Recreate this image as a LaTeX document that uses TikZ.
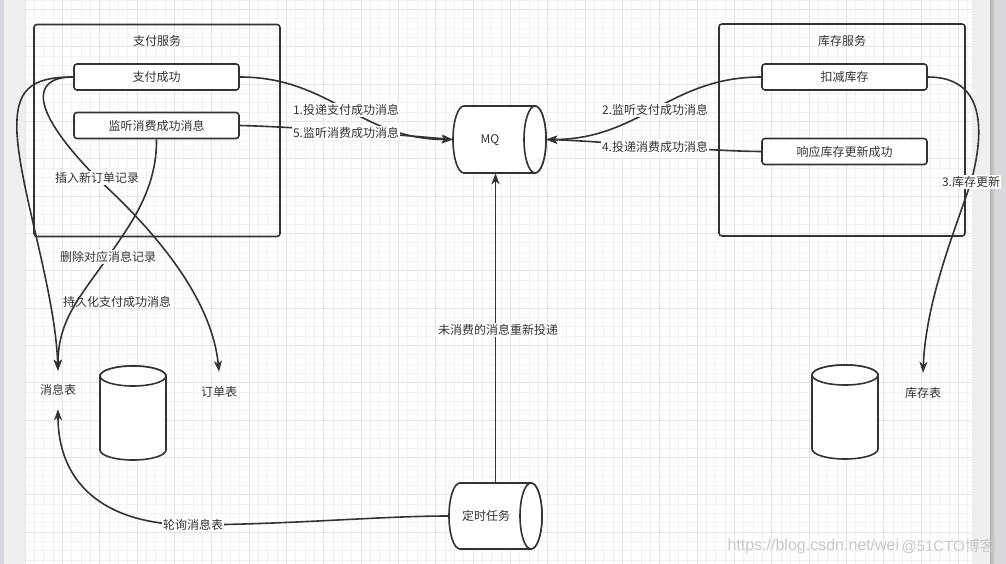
\documentclass[tikz,border=0pt]{standalone}
\usepackage{fontspec}
\setmainfont{Noto Sans CJK SC}
\newfontfamily\wmfont{Liberation Sans}
\usetikzlibrary{arrows.meta,calc}
\definecolor{ink}{HTML}{333333}
\definecolor{gridminor}{HTML}{F2F2F2}
\definecolor{gridmajor}{HTML}{E4E4E4}
\definecolor{sidegray}{HTML}{EFEFEF}
\definecolor{darkside}{HTML}{D8D8DC}
\definecolor{wmgray}{HTML}{C9C9C9}
\pgfdeclarelayer{bg}
\pgfdeclarelayer{edges}
\pgfsetlayers{bg,edges,main}
\tikzset{
  every node/.style={font=\fontsize{12}{14}\selectfont, text=ink},
  container/.style={draw=ink, line width=1.6, rounded corners=3pt, minimum width=246, minimum height=212, inner sep=0},
  box/.style={draw=ink, line width=1.6, rounded corners=3pt, fill=white, minimum width=165, minimum height=26, inner sep=0},
  tbl/.style={minimum width=60, minimum height=38, inner sep=0},
  anchorbox/.style={minimum width=93, minimum height=67, inner sep=0},
  lbl/.style={fill=white, inner sep=1pt},
  plainlbl/.style={inner sep=1pt},
  cylstyle/.style={draw=ink, line width=1.6, fill=white},
  arr/.style={draw=ink, line width=1.6, -{Stealth[length=11pt, width=8pt, inset=3pt]}},
}
\newcommand{\hcylinder}[4]{%
  \begin{scope}[shift={(#1,#2)}]
    \filldraw[cylstyle] (#3-11,-#4) -- (-#3+11,-#4) arc[start angle=270,end angle=90,x radius=11,y radius=#4] -- (#3-11,#4) arc[start angle=90,end angle=-90,x radius=11,y radius=#4] -- cycle;
    \draw[cylstyle] (#3-11,0) ellipse[x radius=11,y radius=#4];
  \end{scope}}
\newcommand{\vcylinder}[4]{%
  \begin{scope}[shift={(#1,#2)}]
    \filldraw[cylstyle] (-#3,-#4+10) -- (-#3,#4-10) arc[start angle=180,end angle=0,x radius=#3,y radius=10] -- (#3,-#4+10) arc[start angle=0,end angle=-180,x radius=#3,y radius=10] -- cycle;
    \draw[cylstyle] (0,-#4+10) ellipse[x radius=#3,y radius=10];
  \end{scope}}
\begin{document}
\begin{tikzpicture}[x=1pt,y=-1pt]
\useasboundingbox (0,0) rectangle (1006,564);
\begin{pgfonlayer}{bg}
  \fill[white] (0,0) rectangle (1006,564);
  \foreach \yy in {0,9.3333,...,564} {\draw[gridminor, line width=0.8] (25,\yy) -- (972,\yy);}
  \foreach \xx in {25,34.3333,...,972} {\draw[gridminor, line width=0.8] (\xx,0) -- (\xx,564);}
  \foreach \yy in {9.3333,46.6667,...,564} {\draw[gridmajor, line width=0.8] (25,\yy) -- (972,\yy);}
  \foreach \xx in {25,62.3333,...,972} {\draw[gridmajor, line width=0.8] (\xx,0) -- (\xx,564);}
  \fill[sidegray] (0,0) rectangle (25,564);
  \fill[darkside] (0,0) rectangle (4,564);
  \fill[sidegray] (972,0) rectangle (990,564);
  \fill[darkside] (990,0) rectangle (1006,564);
  \shade[left color=black!30, right color=darkside] (990,0) rectangle (995,564);
  \node[font=\wmfont\fontsize{16}{18}\selectfont, text=wmgray, anchor=west] (wm1) at (724,546) {https://blog.csdn.net/wei};
  \node[font=\fontsize{15}{17}\selectfont, text=wmgray, anchor=west] (wm2) at (898,546) {\wmfont @51CTO\rmfamily 博客};
\end{pgfonlayer}

% containers
\node[container] (pay) at (157,130.5) {};
\node (paytitle) at (157,41) {支付服务};
\node[container] (stock) at (842,130) {};
\node (stocktitle) at (842,41) {库存服务};

% boxes
\node[box] (zf) at (156.5,77) {支付成功};
\node[box] (zl) at (156.5,125.5) {监听消费成功消息};
\node[box] (kc) at (844.5,77) {扣减库存};
\node[box] (xy) at (844.5,151.5) {响应库存更新成功};

% cylinders
\hcylinder{499.5}{139.5}{46.5}{33.5}
\node[anchorbox] (MQ) at (499.5,139.5) {};
\node (mqtext) at (490,140) {MQ};
\hcylinder{495.5}{516}{46.5}{33}
\node[anchorbox, minimum height=66] (ds) at (495.5,516) {};
\node (dstext) at (486,516) {定时任务};
\vcylinder{133}{413}{33}{47}
\vcylinder{845}{412}{33}{47}

% tables
\node[tbl] (xxb) at (58,390) {消息表};
\node[tbl, minimum height=40] (ddb) at (219,392) {订单表};
\node[tbl, minimum height=40] (kcb) at (923,393) {库存表};

% labels
\node[lbl] (l1) at (346,110) {1.投递支付成功消息};
\node[lbl] (l5) at (346,133) {5.监听消费成功消息};
\node[lbl] (l2) at (655,110) {2.监听支付成功消息};
\node[lbl] (l4) at (655,147) {4.投递消费成功消息};
\node[lbl] (l3) at (971,182) {3.库存更新};
\node[lbl] (lins) at (97,178) {插入新订单记录};
\node[lbl] (ldel) at (108,257) {删除对应消息记录};
\node[plainlbl] (lper) at (117,302) {持久化支付成功消息};
\node[lbl] (lpoll) at (193,525) {轮询消息表};
\node[lbl] (lredo) at (498,330) {未消费的消息重新投递};
\coordinate (wp1) at (17,133);

\begin{pgfonlayer}{edges}
  \draw[arr] (zf.east) .. controls (330,77) and (360,139.5) .. (MQ.west);
  \draw[arr] (zl.east) .. controls (300,127) and (400,135) .. (MQ.west);
  \draw[arr] (kc.west) .. controls (670,77) and (640,139.5) .. (MQ.east);
  \draw[arr] (xy.west) .. controls (700,151) and (600,141) .. (MQ.east);
  \draw[arr] (kc.east) .. controls (985,77) and (985,130) .. (l3.center) .. controls (955,230) and (926,300) .. (kcb.north);
  \draw[arr] (zf.west) .. controls (30,77) and (15,90) .. (wp1) .. controls (20,190) and (55,290) .. (xxb.north);
  \draw[arr] (zf.west) .. controls (30,77) and (30,110) .. (lins.center) .. controls (120,200) and (210,280) .. (ddb.north);
  \draw[arr] (zl.south) .. controls (157,190) and (130,225) .. (ldel.center) .. controls (80,297) and (58,320) .. (xxb.north);
  \draw[arr] (ds.west) .. controls (380,516) and (300,524) .. (lpoll.center) .. controls (100,525) and (58,480) .. (xxb.south);
  \draw[arr] (ds.north) -- (ds.north |- MQ.south);
\end{pgfonlayer}
\end{tikzpicture}
\end{document}
